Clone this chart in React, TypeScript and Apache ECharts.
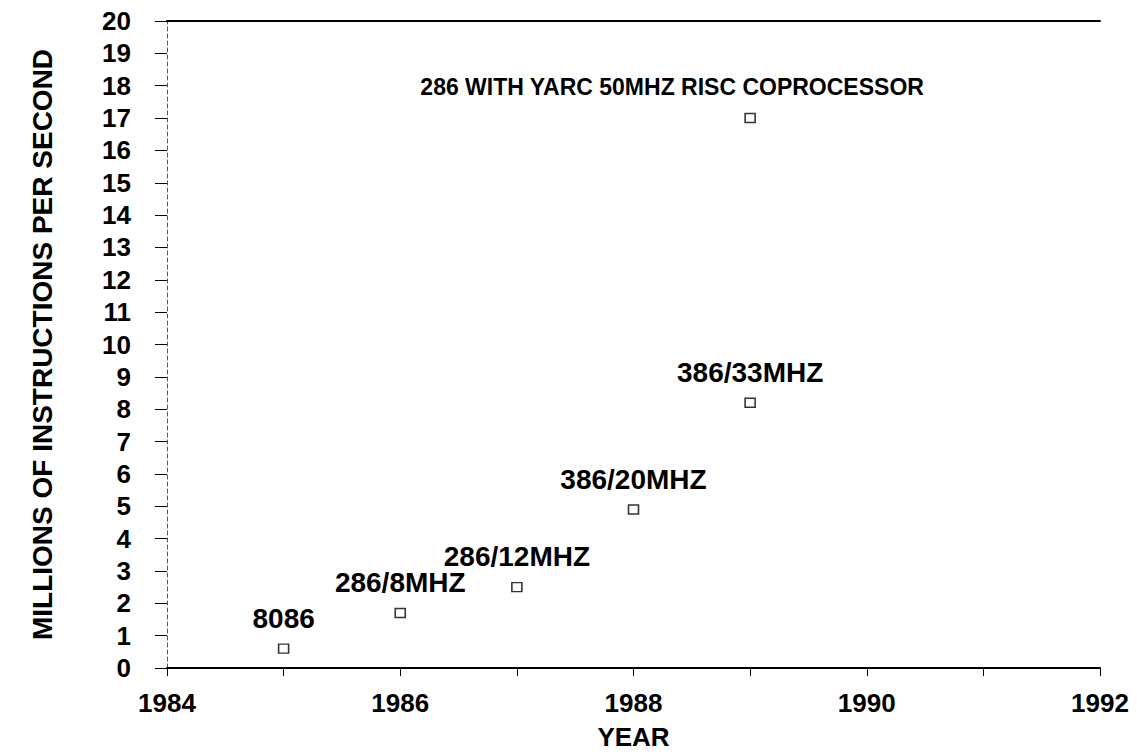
import React, { useEffect, useRef } from "react";
import * as echarts from "echarts";

const years = [1985, 1986, 1987, 1988, 1989, 1989];
const mips = [0.6, 1.7, 2.5, 4.9, 8.2, 17.0];
const pointLabels = [
  "8086",
  "286/8MHZ",
  "286/12MHZ",
  "386/20MHZ",
  "386/33MHZ",
  "286 WITH YARC 50MHZ RISC COPROCESSOR",
];
const xLabelYears = [1984, 1986, 1988, 1990, 1992];
const xAxisTitle = "YEAR";
const yAxisTitle = "MILLIONS OF INSTRUCTIONS PER SECOND";

const FONT = "'Liberation Sans', Arial, Helvetica, sans-serif";

export default function App() {
  const ref = useRef<HTMLDivElement>(null);
  useEffect(() => {
    if (!ref.current) return;
    const chart = echarts.init(ref.current, null, { renderer: "svg" });
    const data = years.map((y, i) => {
      const item: any = { value: [y, mips[i]], name: pointLabels[i] };
      if (i === 5) {
        item.label = { offset: [-78, 0], fontSize: 23, distance: 14 };
      }
      return item;
    });
    chart.setOption({
      animation: false,
      backgroundColor: "#ffffff",
      grid: { left: 167, right: 37, top: 21, bottom: 87 },
      xAxis: [
        {
          type: "value",
          min: 1984,
          max: 1992,
          interval: 1,
          name: xAxisTitle,
          nameLocation: "middle",
          nameGap: 56,
          nameTextStyle: {
            fontFamily: FONT,
            fontWeight: "bold",
            fontSize: 26,
            color: "#000",
          },
          axisLine: { show: true, lineStyle: { color: "#000", width: 2 } },
          axisTick: { show: true, length: 8, lineStyle: { color: "#000", width: 1 } },
          splitLine: { show: false },
          axisLabel: {
            margin: 22,
            fontFamily: FONT,
            fontWeight: "bold",
            fontSize: 26,
            color: "#000",
            formatter: (v: number) => (xLabelYears.includes(v) ? String(v) : ""),
          },
        },
        {
          type: "value",
          position: "top",
          min: 1984,
          max: 1992,
          interval: 1,
          axisLine: { show: true, lineStyle: { color: "#000", width: 2 } },
          axisTick: { show: false },
          axisLabel: { show: false },
          splitLine: { show: false },
        },
      ],
      yAxis: {
        type: "value",
        min: 0,
        max: 20,
        interval: 1,
        name: yAxisTitle,
        nameLocation: "middle",
        nameGap: 111,
        nameTextStyle: {
          fontFamily: FONT,
          fontWeight: "bold",
          fontSize: 28,
          color: "#000",
        },
        axisLine: {
          show: true,
          lineStyle: { color: "#555", width: 1, type: [4, 3] },
        },
        axisTick: { show: true, length: 12, lineStyle: { color: "#000", width: 1 } },
        splitLine: { show: false },
        axisLabel: {
          margin: 36,
          fontFamily: FONT,
          fontWeight: "bold",
          fontSize: 26,
          color: "#000",
        },
      },
      series: [
        {
          type: "scatter",
          xAxisIndex: 0,
          symbol: "rect",
          symbolSize: [10, 9],
          itemStyle: { color: "#fff", borderColor: "#000", borderWidth: 1.5 },
          label: {
            show: true,
            position: "top",
            distance: 11,
            formatter: (p: any) => p.name,
            fontFamily: FONT,
            fontWeight: "bold",
            fontSize: 28,
            color: "#000",
            opacity: 1,
            textBorderWidth: 0,
            textBorderColor: "transparent",
          },
          data,
        },
      ],
    });
    return () => chart.dispose();
  }, []);
  return (
    <div
      ref={ref}
      style={{ position: "fixed", left: 0, top: 0, width: 1137, height: 755 }}
    />
  );
}
